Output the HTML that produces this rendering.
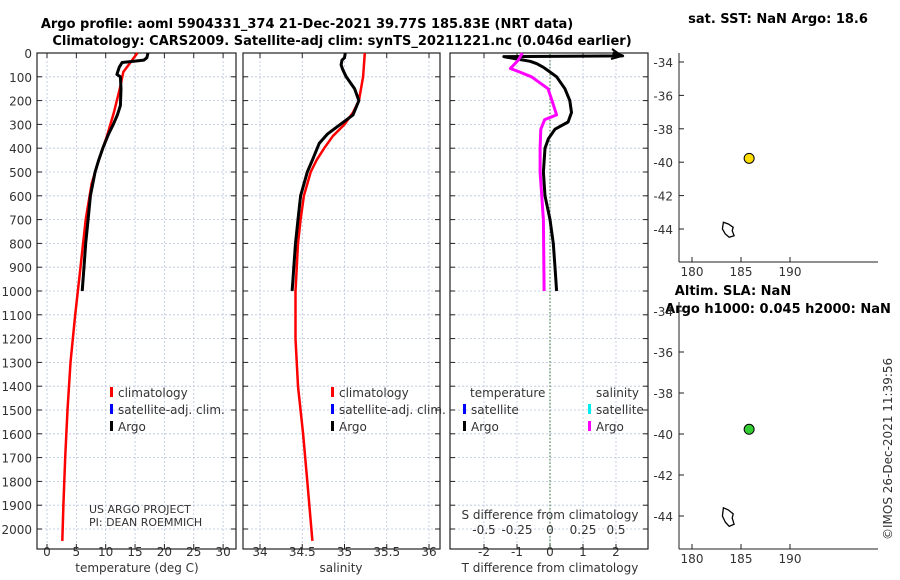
<!DOCTYPE html>
<html><head><meta charset="utf-8"><style>
body{margin:0;background:#fff}
svg{display:block;font-family:"DejaVu Sans","Liberation Sans",sans-serif}
.t{font-size:12px;fill:#333}
.b{font-size:13px;font-weight:bold;fill:#000}
.g{stroke:#b8c4e0;stroke-width:0.8;stroke-dasharray:2,2}
</style></head><body>
<svg id="c" width="900" height="580" viewBox="0 0 900 580">
<text class="b" x="307" y="28" text-anchor="middle">Argo profile: aoml 5904331_374 21-Dec-2021 39.77S 185.83E (NRT data)</text>
<text class="b" x="342" y="45" text-anchor="middle">Climatology: CARS2009. Satellite-adj clim: synTS_20211221.nc (0.046d earlier)</text>
<text class="b" x="778" y="23" text-anchor="middle">sat. SST: NaN Argo: 18.6</text>
<text class="b" x="733" y="295" text-anchor="middle">Altim. SLA: NaN</text>
<text class="b" x="778" y="313" text-anchor="middle">Argo h1000: 0.045 h2000: NaN</text>
<text class="t" transform="translate(892,540) rotate(-90)">©IMOS 26-Dec-2021 11:39:56</text>
<g id="plots"></g>
</svg>
<script>
// ---- data ----
const depthTicks=[0,100,200,300,400,500,600,700,800,900,1000,1100,1200,1300,1400,1500,1600,1700,1800,1900,2000];
const tempTicks=[0,5,10,15,20,25,30];
const salTicks=[34,34.5,35,35.5,36];
const tdiffTicks=[-2,-1,0,1,2];
const sdiffTicks=[-0.5,-0.25,0,0.25,0.5];
const argoDepth=[0,20,30,40,60,90,100,150,220,260,300,340,400,450,500,600,700,800,900,1000];
const argoTemp=[17.2,17,16.5,12.8,12.3,11.9,12.5,12.6,12.5,12,11.3,10.5,9.5,8.8,8.2,7.4,7,6.6,6.3,6];
const climDepth=[0,40,80,150,250,350,450,550,700,900,1100,1300,1500,1700,1900,2050];
const climTemp=[15.4,14.2,13,12.4,11.4,10.2,8.8,7.6,6.6,5.7,4.8,4,3.5,3.1,2.8,2.6];
const argoSalDepth=[0,20,30,50,70,100,150,200,260,300,340,380,450,500,600,700,800,900,950,1000];
const argoSal=[35.01,35,34.97,34.96,34.98,35.02,35.12,35.17,35.1,34.95,34.8,34.7,34.62,34.56,34.48,34.45,34.42,34.4,34.39,34.38];
const climSalDepth=[0,100,200,250,300,350,400,450,500,600,700,800,1000,1200,1400,1600,1800,2050];
const climSal=[35.24,35.22,35.17,35.1,35.0,34.86,34.76,34.67,34.6,34.52,34.48,34.45,34.42,34.42,34.45,34.51,34.56,34.62];
const tdiffDepth=[0,12,15,25,35,45,60,80,100,150,200,250,290,320,360,400,500,600,700,800,900,1000];
const tdiff=[1.9,2.2,-1.4,-1.0,-0.6,-0.4,-0.2,0.0,0.2,0.45,0.6,0.65,0.55,0.15,-0.05,-0.15,-0.2,-0.15,0.0,0.1,0.15,0.2];
const sdiffDepth=[0,30,65,80,100,150,200,260,280,320,400,500,700,1000];
const sdiff=[-0.21,-0.24,-0.30,-0.23,-0.14,-0.015,0.015,0.05,-0.04,-0.07,-0.075,-0.075,-0.05,-0.045];
const mapLonTicks=[180,185,190];
const map1LatTicks=[-34,-36,-38,-40,-42,-44];
const map2LatTicks=[-34,-36,-38,-40,-42,-44];
const floatLon=185.83, floatLat=-39.77;
const islandLon=[183.2,183.7,184.2,184.1,184.3,183.8,183.4,183.1,183.2];
const islandLat=[-43.6,-43.7,-43.9,-44.1,-44.4,-44.5,-44.3,-44.0,-43.6];

const NS='http://www.w3.org/2000/svg';
const root=document.getElementById('plots');
function el(tag,attrs,parent){const e=document.createElementNS(NS,tag);for(const k in attrs)e.setAttribute(k,attrs[k]);(parent||root).appendChild(e);return e;}
function txt(s,x,y,cls,anchor,parent){const e=el('text',{x:x,y:y,class:cls,'text-anchor':anchor||'middle'},parent);e.textContent=s;return e;}
const Y0=53,Y1=549;
const yD=d=>Y0+d*0.238;
function path(vals,deps,fx,color,w,name){
  const p=el('path',{d:vals.map((v,i)=>(i?'L':'M')+fx(v).toFixed(1)+','+yD(deps[i]).toFixed(1)).join(''),fill:'none',stroke:color,'stroke-width':w,'stroke-linejoin':'round'});
  
  
  return p;
}
function panel(x0,x1,ticks,fx,name,labelY){
  const g=el('g',{});
  
  
  depthTicks.forEach(d=>{el('line',{x1:x0,x2:x1,y1:yD(d),y2:yD(d),class:'g'},g);
    el('line',{x1:x0,x2:x0+5,y1:yD(d),y2:yD(d),stroke:'#222'},g);el('line',{x1:x1-5,x2:x1,y1:yD(d),y2:yD(d),stroke:'#222'},g);});
  ticks.forEach(t=>{const x=fx(t);el('line',{x1:x,x2:x,y1:Y0,y2:Y1,class:'g'},g);
    el('line',{x1:x,x2:x,y1:Y1-5,y2:Y1,stroke:'#222'},g);el('line',{x1:x,x2:x,y1:Y0,y2:Y0+5,stroke:'#222'},g);
    if(labelY)txt(String(t),x,labelY,'t','middle',g);});
  el('rect',{x:x0,y:Y0,width:x1-x0,height:Y1-Y0,fill:'none',stroke:'#222','stroke-width':1.2},g);
  return g;
}
depthTicks.forEach(d=>{const t=txt(String(d),32,yD(d)+5,'t','end');
  
  });
// temperature panel
const fT=t=>47+t*5.87;
panel(37,236,tempTicks,fT,'temperature-panel',556);
txt('temperature (deg C)',137,572,'t');
path(climTemp,climDepth,fT,'#f00',2.5,'temp-climatology-line');
path(argoTemp,argoDepth,fT,'#000',3,'temp-argo-line');
// salinity panel
const fS=s=>260+(s-34)*84.5;
panel(243,440,salTicks,fS,'salinity-panel',556);
txt('salinity',341,572,'t');
path(climSal,climSalDepth,fS,'#f00',2.5,'sal-climatology-line');
path(argoSal,argoSalDepth,fS,'#000',3,'sal-argo-line');
// diff panel
const fD=v=>550+v*33;
const fSD=v=>550+v*132;
panel(450,648,tdiffTicks,fD,'difference-panel',556);
el('line',{x1:550,x2:550,y1:Y0,y2:Y1,stroke:'#585',"stroke-dasharray":'1.5,2','stroke-width':1.2});
sdiffTicks.forEach(v=>txt(String(v),fSD(v),534,'t'));
txt('S difference from climatology',550,519,'t');
txt('T difference from climatology',550,572,'t');
path(tdiff,tdiffDepth,fD,'#000',3,'tdiff-argo-line');
el('path',{d:'M612,49 L622,56 L611,59',fill:'none',stroke:'#000','stroke-width':2});
path(sdiff,sdiffDepth,fSD,'#f0f',3,'sdiff-argo-line');
// legends
function leg(x,y,c,s){el('rect',{x:x,y:y-10,width:3,height:10,fill:c});const t=txt(s,x+8,y,'t','start');}
[['#f00','climatology'],['#00f','satellite-adj. clim.'],['#000','Argo']].forEach((a,i)=>leg(110,397+i*17,a[0],a[1]));
[['#f00','climatology'],['#00f','satellite-adj. clim.'],['#000','Argo']].forEach((a,i)=>leg(331,397+i*17,a[0],a[1]));
txt('temperature',470,397,'t','start');txt('salinity',596,397,'t','start');
leg(463,414,'#00f','satellite');leg(463,431,'#000','Argo');
leg(588,414,'#0ee','satellite');leg(588,431,'#f0f','Argo');
txt('US ARGO PROJECT',89,513,'t','start').setAttribute('style','font-size:11px');
txt('PI: DEAN ROEMMICH',89,526,'t','start').setAttribute('style','font-size:11px');
// maps
function map(yTop,yBot,latTicks,y34,pxPerDeg,name){
  const g=el('g',{});
  
  
  const fx=l=>692+(l-180)*9.8, fy=l=>y34+(-34-l)*pxPerDeg;
  el('line',{x1:679,x2:679,y1:yTop,y2:yBot,stroke:'#222'},g);
  el('line',{x1:679,x2:878,y1:yBot,y2:yBot,stroke:'#222'},g);
  latTicks.forEach(l=>{el('line',{x1:679,x2:684,y1:fy(l),y2:fy(l),stroke:'#222'},g);txt(String(l),673,fy(l)+5,'t','end',g);});
  mapLonTicks.forEach(l=>{el('line',{x1:fx(l),x2:fx(l),y1:yBot-5,y2:yBot,stroke:'#222'},g);txt(String(l),fx(l),yBot+14,'t','middle',g);});
  el('path',{d:islandLon.map((v,i)=>(i?'L':'M')+fx(v).toFixed(1)+','+fy(islandLat[i]).toFixed(1)).join('')+'Z',fill:'none',stroke:'#000','stroke-width':1.3},g);
  return {g,fx,fy};
}
const m1=map(53,262,map1LatTicks,62,16.7,'sst-map');
const d1=el('circle',{cx:m1.fx(floatLon),cy:m1.fy(floatLat),r:5,fill:'#fd0',stroke:'#000'},m1.g);


const m2=map(302,549,map2LatTicks,311,20.5,'sla-map');
const d2=el('circle',{cx:m2.fx(floatLon),cy:m2.fy(floatLat),r:5,fill:'#3c3',stroke:'#000'},m2.g);


</script>
</body></html>
